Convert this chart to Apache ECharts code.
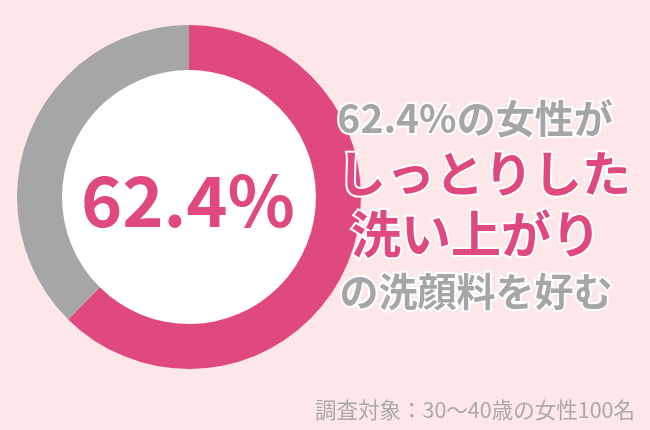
<!DOCTYPE html>
<html>
<head>
<meta charset="utf-8">
<script src="https://cdn.jsdelivr.net/npm/echarts@6/dist/echarts.min.js"></script>
<style>
html,body{margin:0;padding:0;background:#fde7e8;}
#c{width:650px;height:430px;}
</style>
</head>
<body>
<div id="c"></div>
<script>
const categories = ['しっとりした洗い上がりを好む', 'その他'];
const values = [62.4, 37.6];
const centerLabel = '62.4%';
const headline = ['62.4%の女性が', 'しっとりした', '洗い上がり', 'の洗顔料を好む'];
const footnote = '調査対象：30〜40歳の女性100名';

const FONT = '"Noto Sans CJK JP", "Noto Sans", sans-serif';
const PINK = '#e0497f';
const GRAY = '#a6a6a6';

const chart = echarts.init(document.getElementById('c'));
chart.setOption({
  backgroundColor: '#fde7e8',
  animation: false,
  series: [
    {
      type: 'pie',
      center: [189, 197],
      radius: [0, 127],
      silent: true,
      label: { show: false },
      data: [{ value: 1, itemStyle: { color: '#ffffff' } }]
    },
    {
      type: 'pie',
      center: [189, 197],
      radius: [127, 172],
      startAngle: 90,
      clockwise: true,
      label: { show: false },
      labelLine: { show: false },
      itemStyle: { borderWidth: 0 },
      data: categories.map((c, i) => ({
        name: c,
        value: values[i],
        itemStyle: { color: i === 0 ? PINK : GRAY }
      }))
    }
  ],
  graphic: [
    { type: 'text', x: 188, y: 200, z: 100, style: { text: centerLabel, fill: PINK, font: 'bold 70px ' + FONT, textAlign: 'center', textVerticalAlign: 'middle' } },
    { type: 'text', x: 475, y: 118, z: 100, style: { text: headline[0], fill: GRAY, stroke: '#fff', lineWidth: 4, font: 'bold 39px ' + FONT, textAlign: 'center', textVerticalAlign: 'middle' } },
    { type: 'text', x: 484, y: 173, z: 100, style: { text: headline[1], fill: PINK, stroke: '#fff', lineWidth: 4, font: 'bold 49px ' + FONT, textAlign: 'center', textVerticalAlign: 'middle' } },
    { type: 'text', x: 476, y: 234, z: 100, style: { text: headline[2], fill: PINK, stroke: '#fff', lineWidth: 4, font: 'bold 50px ' + FONT, textAlign: 'center', textVerticalAlign: 'middle' } },
    { type: 'text', x: 476, y: 291, z: 100, style: { text: headline[3], fill: GRAY, stroke: '#fff', lineWidth: 4, font: 'bold 39px ' + FONT, textAlign: 'center', textVerticalAlign: 'middle' } },
    { type: 'text', x: 635, y: 410, z: 100, style: { text: footnote, fill: '#aaaaaa', font: '21.5px ' + FONT, textAlign: 'right', textVerticalAlign: 'middle' } }
  ]
});
</script>
</body>
</html>
